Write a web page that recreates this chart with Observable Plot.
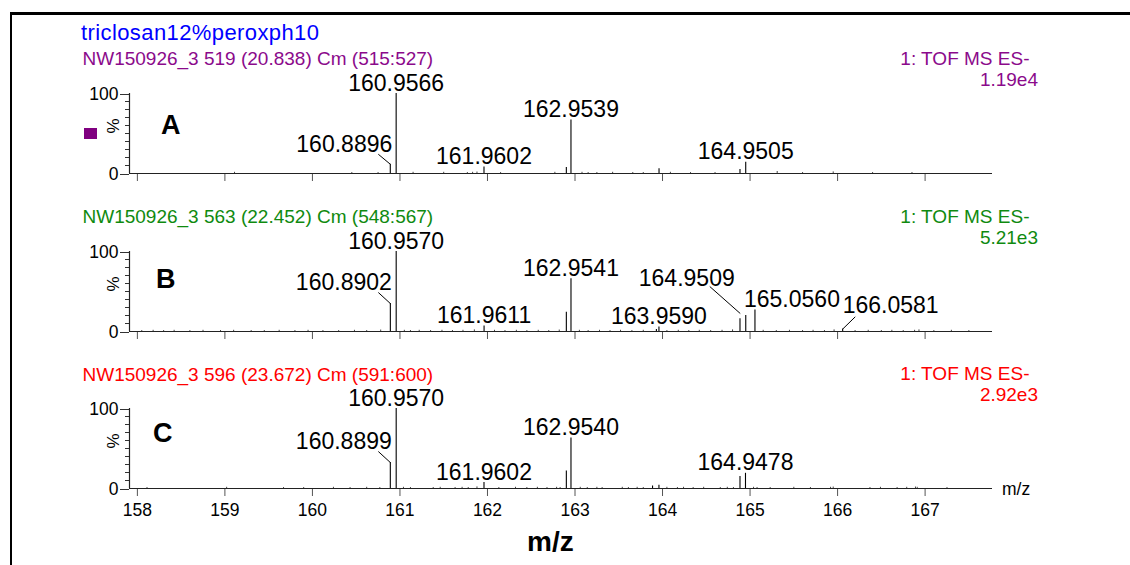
<!DOCTYPE html>
<html>
<head>
<meta charset="utf-8">
<script src="https://cdn.jsdelivr.net/npm/d3@7"></script>
<script src="https://cdn.jsdelivr.net/npm/@observablehq/plot@0.6"></script>
<style>
  body { margin: 0; background: #fff; font-family: "Liberation Sans", Arial, sans-serif; }
  #wrap { position: relative; width: 1130px; height: 565px; overflow: hidden; background: #fff; }
  .abs { position: absolute; white-space: nowrap; line-height: 1; }
  #wrap svg { position: absolute; left: 0; overflow: visible; }
</style>
</head>
<body>
<div id="wrap"></div>
<script>
// ---------------- data ----------------
const title = "triclosan12%peroxph10";
const panelLetters = ["A", "B", "C"];
const fileInfo = [
  "NW150926_3 519 (20.838) Cm (515:527)",
  "NW150926_3 563 (22.452) Cm (548:567)",
  "NW150926_3 596 (23.672) Cm (591:600)"
];
const scanMode = "1: TOF MS ES-";
const intensities = ["1.19e4", "5.21e3", "2.92e3"];
const xTicks = [158, 159, 160, 161, 162, 163, 164, 165, 166, 167];
const xDomain = [157.91, 167.77];
const yMajorTicks = [0, 100];
const yMinorTicks = [10, 20, 30, 40, 50, 60, 70, 80, 90];

// Panel A
const peakMzA = [160.8896, 160.9566, 161.9602, 162.9010, 162.9539, 163.9600, 164.8850, 164.9505];
const peakPctA = [11.6, 100, 8, 7.5, 67, 6, 5, 14];
const peakLabelA = ["160.8896", "160.9566", "161.9602", "", "162.9539", "", "", "164.9505"];
const noiseMzA = [159.11, 160.45, 160.75, 161.15, 161.50, 161.77, 161.83, 161.88, 162.15, 162.77, 163.08, 163.15, 163.25, 163.43, 163.66, 163.78, 164.09, 164.32, 164.60, 165.31, 165.60, 165.95, 166.40, 166.85];
const noisePctA = [1.5, 1.2, 1.2, 1.5, 1.5, 1.2, 1.5, 1.8, 1.2, 1.5, 1.5, 1.2, 1.2, 1.5, 1.2, 1.2, 1.5, 1.2, 1.2, 2.5, 1.2, 2.0, 1.2, 1.2];

// Panel B
const peakMzB = [160.8902, 160.9570, 161.9611, 162.9010, 162.9541, 163.9300, 163.9590, 164.8850, 164.9509, 165.0560, 166.0581];
const peakPctB = [35, 100, 7, 24, 66, 2.5, 5.5, 16, 20, 27, 3];
const peakLabelB = ["160.8902", "160.9570", "161.9611", "", "162.9541", "", "163.9590", "", "164.9509", "165.0560", "166.0581"];
const noiseMzB = [158.05, 158.18, 158.30, 158.42, 158.60, 158.75, 158.95, 159.10, 159.30, 159.45, 159.62, 159.80, 159.95, 160.12, 160.30, 160.48, 160.62, 160.78, 161.05, 161.12, 161.22, 161.35, 161.48, 161.60, 161.72, 161.85, 162.08, 162.20, 162.33, 162.45, 162.58, 162.70, 162.82, 163.05, 163.15, 163.28, 163.40, 163.52, 163.65, 163.78, 164.05, 164.18, 164.30, 164.42, 164.55, 164.68, 164.80, 165.15, 165.30, 165.45, 165.60, 165.72, 165.85, 165.96, 166.20, 166.35, 166.50, 166.62, 166.75, 166.88, 166.93, 167.10, 167.30, 167.50];
const noisePctB = [1.2, 1.5, 1.2, 1.5, 1.2, 1.5, 1.2, 1.5, 1.2, 1.2, 1.5, 1.2, 1.5, 1.2, 1.2, 1.5, 1.2, 1.8, 1.5, 1.2, 1.5, 1.2, 1.5, 1.2, 1.5, 2.0, 1.5, 1.2, 1.5, 1.2, 1.5, 1.2, 1.8, 1.5, 1.2, 1.5, 1.2, 1.5, 1.2, 1.5, 1.2, 1.5, 1.2, 1.5, 1.2, 1.5, 2.0, 1.5, 1.2, 1.5, 1.2, 1.5, 1.2, 2.0, 1.2, 1.5, 1.2, 1.5, 1.2, 1.5, 2.0, 1.2, 1.5, 1.2];

// Panel C
const peakMzC = [160.8899, 160.9570, 161.9602, 162.9010, 162.9540, 163.8860, 163.9590, 164.8850, 164.9478];
const peakPctC = [32.5, 100, 7.5, 22, 63, 3, 4, 15, 19];
const peakLabelC = ["160.8899", "160.9570", "161.9602", "", "162.9540", "", "", "", "164.9478"];
const noiseMzC = [158.11, 159.02, 159.67, 159.90, 160.24, 160.43, 160.62, 160.77, 161.04, 161.12, 161.38, 161.46, 161.63, 161.71, 161.78, 161.88, 162.13, 162.32, 162.45, 162.57, 162.68, 162.79, 162.83, 163.06, 163.14, 163.25, 163.31, 163.54, 163.61, 163.71, 163.78, 164.05, 164.17, 164.24, 164.35, 164.47, 164.66, 164.74, 164.81, 165.04, 165.08, 165.23, 165.50, 165.69, 165.92, 165.95, 166.37, 166.49, 166.68, 166.79, 166.89, 166.91, 167.25];
const noisePctC = [1.2, 1.5, 1.2, 1.2, 1.5, 1.2, 1.5, 1.2, 1.5, 1.2, 1.2, 1.5, 1.2, 1.5, 1.2, 2.0, 1.2, 1.5, 1.2, 1.5, 1.2, 1.5, 1.2, 1.5, 1.2, 1.5, 1.2, 1.5, 1.2, 1.5, 1.2, 1.5, 1.2, 1.5, 1.2, 1.5, 1.2, 1.5, 1.2, 1.5, 1.2, 1.2, 1.5, 1.2, 1.5, 1.8, 1.2, 1.5, 1.2, 1.5, 1.8, 1.5, 1.2];

const panels = [
  {mz: peakMzA, pct: peakPctA, label: peakLabelA, nmz: noiseMzA, npct: noisePctA},
  {mz: peakMzB, pct: peakPctB, label: peakLabelB, nmz: noiseMzB, npct: noisePctB},
  {mz: peakMzC, pct: peakPctC, label: peakLabelC, nmz: noiseMzC, npct: noisePctC}
];

// ---------------- layout / style ----------------
const W = 1130, H = 220;
const M = {top: 80, bottom: 60, left: 129, right: 138};
const panelColors = ["#8b0a8b", "#0f8a0f", "#ff0000"];
const svgTop = [13.3, 170.7, 327.7];
const headerBase = [65.5, 223.3, 380.7];
const intensityBase = [86, 243.8, 400.7];
const letterPos = [{left: 161, base: 135}, {left: 156, base: 289.3}, {left: 153, base: 443.3}];
// label offsets (pixels, relative to the peak top) for callout labels
const callouts = [{}, {}, {}];
callouts[0]["160.8896"] = {dx: -46, dy: -12, from: [-12, -10], to: [0, 0]};
callouts[1]["160.8902"] = {dx: -46.5, dy: -13.7, from: [-12, -11], to: [0, 0]};
callouts[2]["160.8899"] = {dx: -46.5, dy: -14, from: [-12, -11], to: [0, 0]};
callouts[1]["164.9509"] = {dx: -59, dy: -30, from: [-36, -29], to: [-5.5, -2]};
callouts[1]["165.0560"] = {dx: 37, dy: -3};
callouts[1]["166.0581"] = {dx: 48, dy: -16.6, from: [12.6, -12.3], to: [0, 0]};

const wrap = document.getElementById("wrap");
function addText(str, o) {
  const d = document.createElement("div");
  d.className = "abs";
  d.textContent = str;
  d.style.fontSize = o.size + "px";
  d.style.top = (o.base - 0.8465 * o.size) + "px";
  if (o.right != null) d.style.right = (W - o.right) + "px";
  else d.style.left = o.left + "px";
  d.style.color = o.color || "#000";
  if (o.bold) d.style.fontWeight = "bold";
  if (o.spacing) d.style.letterSpacing = o.spacing + "px";
  wrap.appendChild(d);
  return d;
}
function addBox(left, top, w, h, color) {
  const d = document.createElement("div");
  d.style.cssText = `position:absolute;left:${left}px;top:${top}px;width:${w}px;height:${h}px;background:${color}`;
  wrap.appendChild(d);
}

// outer frame (top and left lines)
addBox(10, 12, W - 10, 2.5, "#000");
addBox(9.5, 12, 2.5, 565, "#000");

addText(title, {left: 81, base: 40.7, size: 22, color: "#0000ff", spacing: 0.4});

const xs = Plot.scale({x: {type: "linear", domain: xDomain, range: [M.left, W - M.right]}});
const ys = Plot.scale({y: {type: "linear", domain: [0, 100], range: [H - M.bottom, M.top]}});

panels.forEach((p, i) => {
  const color = panelColors[i];
  addText(fileInfo[i], {left: 82.5, base: headerBase[i], size: 19, color});
  addText(scanMode, {right: 1029.5, base: headerBase[i] - 0.3, size: 19, color});
  addText(intensities[i], {right: 1038, base: intensityBase[i], size: 19, color});
  addText(panelLetters[i], {left: letterPos[i].left, base: letterPos[i].base, size: 27, bold: true});

  const peaks = p.mz.map((mz, k) => ({mz, pct: p.pct[k], label: p.label[k]}));
  const noise = p.nmz.map((mz, k) => ({mz, pct: p.npct[k]}));
  const labels = [];
  const leaders = [];
  peaks.filter(d => d.label).forEach(d => {
    const X = xs.apply(d.mz), Y = ys.apply(d.pct);
    const c = callouts[i][d.label] || {dx: 0, dy: -3};
    labels.push({lx: xs.invert(X + c.dx), ly: ys.invert(Y + c.dy), label: d.label});
    if (c.from) {
      leaders.push({
        x1: xs.invert(X + c.from[0]), y1: ys.invert(Y + c.from[1]),
        x2: xs.invert(X + c.to[0]), y2: ys.invert(Y + c.to[1])
      });
    }
  });

  const svg = Plot.plot({
    width: W, height: H,
    marginTop: M.top, marginBottom: M.bottom, marginLeft: M.left, marginRight: M.right,
    style: {fontFamily: "'Liberation Sans', Arial, sans-serif", fontSize: "17px", background: "transparent", color: "#000", overflow: "visible"},
    x: {domain: xDomain, axis: null},
    y: {domain: [0, 100], axis: null},
    marks: [
      Plot.axisY({ticks: yMinorTicks, tickSize: 4, tickFormat: () => "", label: null, stroke: "#333"}),
      Plot.axisY({ticks: yMajorTicks, tickSize: 9, tickPadding: 2, fontSize: 17.5, label: null, stroke: "#333", dy: 1}),
      Plot.axisX({ticks: xTicks, tickSize: 8, tickPadding: 7, fontSize: 17.5, label: null, stroke: "#555",
        tickFormat: i === 2 ? (d => String(d)) : (() => "")}),
      Plot.ruleX(noise, {x: "mz", y1: 0, y2: "pct", stroke: "#444", strokeWidth: 1}),
      Plot.ruleX(peaks, {x: "mz", y1: 0, y2: "pct", stroke: "#000", strokeWidth: 1.1}),
      Plot.ruleY([0], {stroke: "#222", strokeWidth: 1.2}),
      Plot.ruleX([xDomain[0]], {y1: 0, y2: 100, stroke: "#222", strokeWidth: 1.2}),
      Plot.link(leaders, {x1: "x1", y1: "y1", x2: "x2", y2: "y2", stroke: "#000", strokeWidth: 1}),
      Plot.text(labels, {x: "lx", y: "ly", text: "label", fontSize: 23, lineAnchor: "bottom", textAnchor: "middle", fill: "#000"}),
      Plot.text(["%"], {frameAnchor: "left", rotate: -90, dx: -15.7, fontSize: 17, fill: "#000"})
    ]
  });
  svg.style.top = svgTop[i] + "px";
  wrap.appendChild(svg);
});

// purple marker square in panel A
addBox(84, 127.5, 13, 11, "#800080");
// axis labels
addText("m/z", {left: 1002, base: 496, size: 17.5});
addText("m/z", {left: 527, base: 552, size: 28, bold: true});
</script>
</body>
</html>
